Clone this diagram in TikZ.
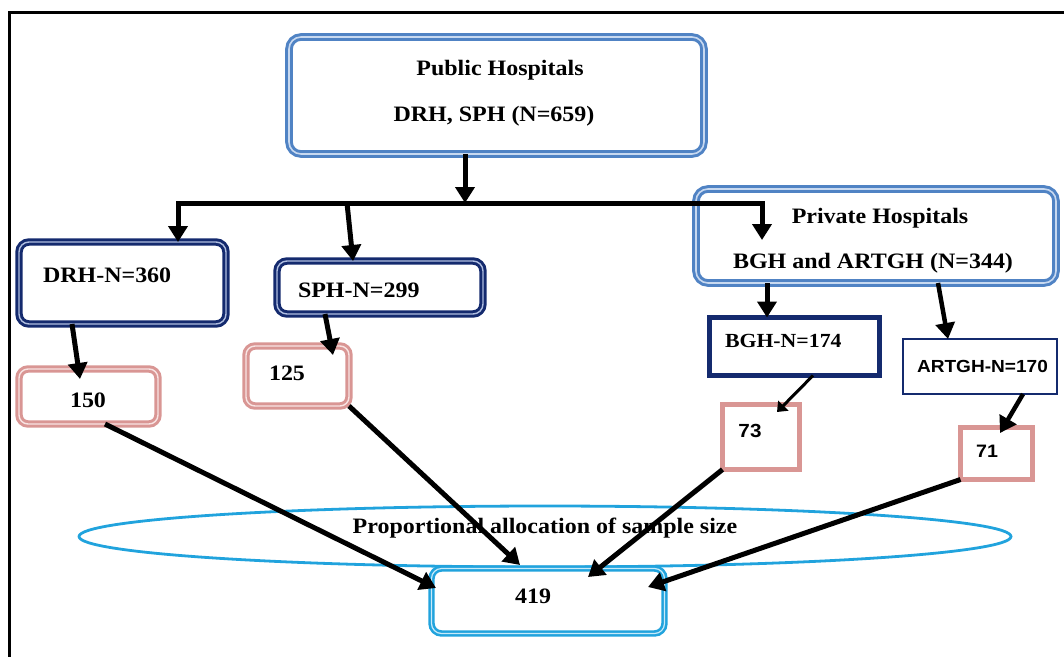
\documentclass[tikz,border=0pt]{standalone}
\usepackage{fontspec}
\setmainfont{Liberation Serif}[FakeStretch=1.09]
\newfontfamily\sansf{Liberation Sans}[FakeStretch=1.09]
\usetikzlibrary{arrows.meta,shapes.geometric}
\definecolor{pubblue}{RGB}{80,131,196}
\definecolor{publight}{RGB}{200,217,240}
\definecolor{navy}{RGB}{20,42,110}
\definecolor{navylight}{RGB}{176,190,224}
\definecolor{pinkb}{RGB}{217,150,148}
\definecolor{pinklight}{RGB}{248,228,227}
\definecolor{skyb}{RGB}{33,163,221}
\definecolor{skylight}{RGB}{200,234,249}
\begin{document}
\begin{tikzpicture}[x=1pt,y=-1pt,
  every node/.style={inner sep=0pt, outer sep=0pt},
  txt/.style={font=\fontsize{22}{26}\selectfont\bfseries, anchor=base},
  txtw/.style={txt, anchor=base west},
  pubbox/.style={draw=pubblue, double=publight, line width=3pt, double distance=1.6pt, rounded corners=12pt, fill=white},
  navybox/.style={draw=navy, double=navylight, line width=3pt, double distance=1.4pt, rounded corners=10pt, fill=white},
  pinkbox/.style={draw=pinkb, double=pinklight, line width=3pt, double distance=1.4pt, rounded corners=9pt, fill=white},
  skybox/.style={draw=skyb, double=skylight, line width=2.6pt, double distance=1.2pt, rounded corners=10pt, fill=white},
  navysq/.style={draw=navy, line width=5pt, fill=white},
  navythin/.style={draw=navy, line width=2pt, fill=white},
  pinksq/.style={draw=pinkb, line width=5pt, fill=white},
  arr/.style={line width=5pt, -{Triangle[length=16pt,width=19pt]}},
  thinarr/.style={line width=3pt, -{Triangle[length=9pt,width=14pt]}},
  midarr/.style={line width=4.5pt, -{Triangle[length=16pt,width=19pt]}},
]
\useasboundingbox (0,0) rectangle (1064,656);
% frame
\draw[line width=3pt] (1066,12) -- (9,12) -- (9,660);

% ellipse and its label
\node[draw=skyb, line width=2.8pt, ellipse, minimum width=932pt, minimum height=61pt] (ell) at (545,536.5) {};
\node[txt] (prop) at (545,533) {Proportional allocation of sample size};

% boxes
\node[pubbox, minimum width=415pt, minimum height=117pt] (pub) at (496.5,95.5) {};
\node[pubbox, minimum width=360pt, minimum height=94pt] (priv) at (876,236) {};
\node[navybox, minimum width=207pt, minimum height=82pt] (drh) at (122.5,283) {};
\node[navybox, minimum width=206pt, minimum height=53pt] (sph) at (380,287.5) {};
\node[pinkbox, minimum width=139pt, minimum height=55pt] (n150) at (88.5,396.5) {};
\node[pinkbox, minimum width=103pt, minimum height=60pt] (n125) at (297.5,376) {};
\node[navysq, minimum width=170pt, minimum height=58pt] (bgh) at (794.5,346.5) {};
\node[navythin, minimum width=154pt, minimum height=55pt] (artgh) at (980,366.5) {};
\node[pinksq, minimum width=77pt, minimum height=65pt] (n73) at (761,437) {};
\node[pinksq, minimum width=72pt, minimum height=52pt] (n71) at (996.5,453.5) {};
\node[skybox, minimum width=233pt, minimum height=65pt] (n419) at (548,601) {};

% texts
\node[txt] (t1) at (500,75) {Public Hospitals};
\node[txt] (t2) at (494,121) {DRH, SPH (N=659)};
\node[txt] (t3) at (880,223) {Private Hospitals};
\node[txt] (t4) at (873,268) {BGH and ARTGH (N=344)};
\node[txtw] (t5) at (43,282) {DRH-N=360};
\node[txtw] (t6) at (298,297) {SPH-N=299};
\node[txt] (t7) at (88,407) {150};
\node[txt] (t8) at (287,380) {125};
\node[txtw, font=\fontsize{20}{24}\selectfont\bfseries] (t9) at (725,347) {BGH-N=174};
\node[anchor=base west, font=\sansf\fontsize{17.5}{21}\selectfont\bfseries] (t10) at (917,372) {ARTGH-N=170};
\node[anchor=base, font=\sansf\fontsize{19}{23}\selectfont\bfseries] (t11) at (750,437) {73};
\node[anchor=base, font=\sansf\fontsize{18}{22}\selectfont\bfseries] (t12) at (987,457) {71};
\node[txt] (t13) at (533,603) {419};

% connector points
\coordinate (j0) at (465,203);
\coordinate (jL) at (178,203);
\coordinate (jM) at (347,203);
\coordinate (jR) at (762,203);
\coordinate (pv) at (762,240);
\coordinate (e150) at (80,379);
\coordinate (e125) at (333,355);
\coordinate (e73) at (777,412);
\coordinate (e71) at (1000,433);
\coordinate (a1) at (436,588);
\coordinate (a2) at (520,565);
\coordinate (a3) at (588,577);
\coordinate (a4) at (648,587);

% connectors
\draw[arr] (pub.south -| j0) -- (j0);
\draw[arr] (jM) -- (jL) -- (jL |- drh.north);
\draw[arr] (jM) -- (jR) -- (pv);
\draw[arr] (jM) -- ([xshift=-27pt]sph.north);
\draw[arr] ([xshift=-109pt]priv.south) -- ([xshift=-27.5pt]bgh.north);
\draw[midarr] ([xshift=62pt]priv.south) -- ([xshift=-32pt]artgh.north);
\draw[arr] ([xshift=-50.5pt]drh.south) -- (e150);
\draw[arr] ([xshift=-55pt]sph.south) -- (e125);
\draw[thinarr] ([xshift=18.5pt]bgh.south) -- (e73);
\draw[midarr] ([xshift=43pt]artgh.south) -- (e71);
\draw[arr] ([xshift=16.5pt]n150.south) -- (a1);
\draw[arr] (n125.south east) -- (a2);
\draw[arr] (n73.south west) -- (a3);
\draw[arr] (n71.south west) -- (a4);
\end{tikzpicture}
\end{document}
